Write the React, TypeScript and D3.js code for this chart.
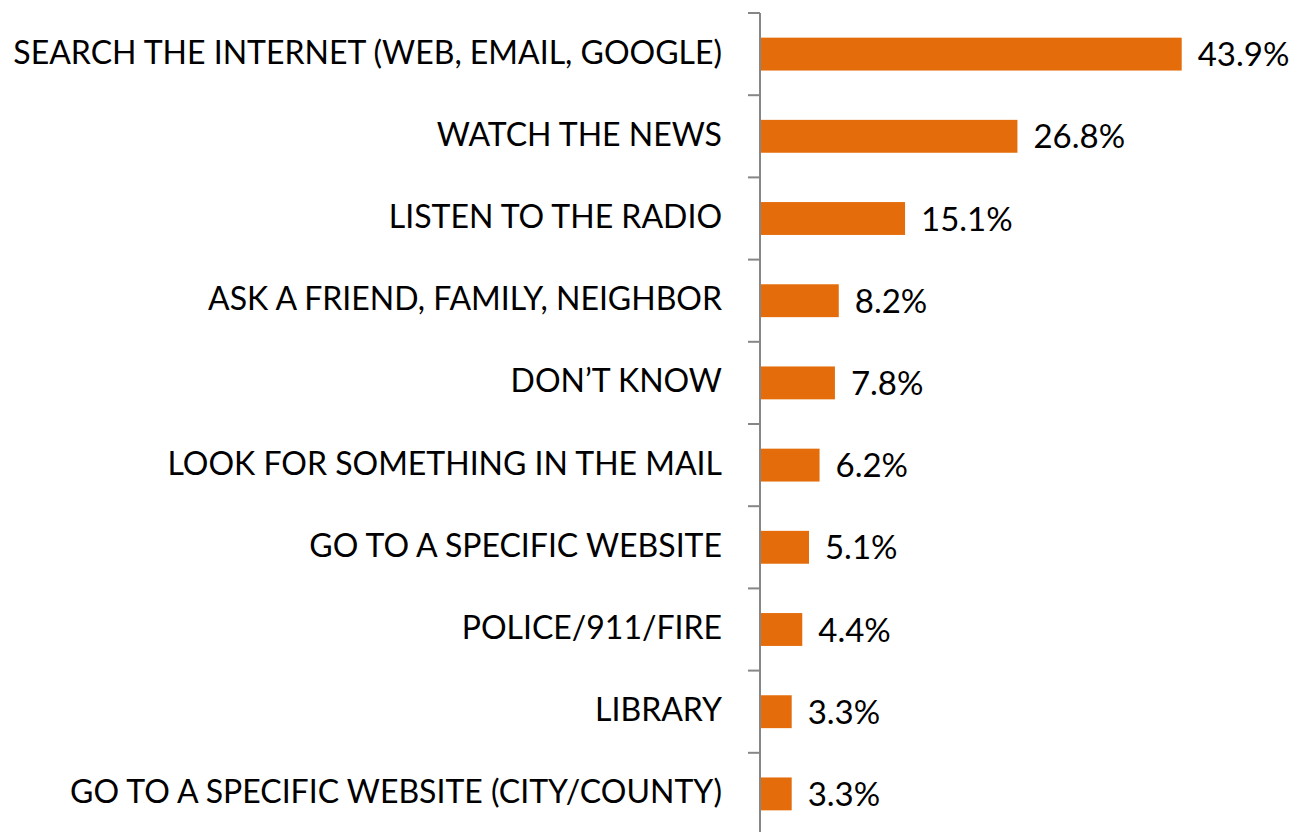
import React from "react";
import * as d3 from "d3";

const categories = [
  "SEARCH THE INTERNET (WEB, EMAIL, GOOGLE)",
  "WATCH THE NEWS",
  "LISTEN TO THE RADIO",
  "ASK A FRIEND, FAMILY, NEIGHBOR",
  "DON\u2019T KNOW",
  "LOOK FOR SOMETHING IN THE MAIL",
  "GO TO A SPECIFIC WEBSITE",
  "POLICE/911/FIRE",
  "LIBRARY",
  "GO TO A SPECIFIC WEBSITE (CITY/COUNTY)",
];
const values = [43.9, 26.8, 15.1, 8.2, 7.8, 6.2, 5.1, 4.4, 3.3, 3.3];

const W = 1295;
const H = 832;
const FONT = "Lato, 'Open Sans', sans-serif";

export default function App() {
  const axisX = 760;
  const top = 13;
  const step = 82.2;
  const x = d3.scaleLinear().domain([0, 50]).range([axisX, axisX + 480.3]);
  const y = d3
    .scaleBand<string>()
    .domain(categories)
    .range([top, top + step * categories.length])
    .paddingInner(0.6)
    .paddingOuter(0.3);
  const bw = y.bandwidth();
  const ticks = d3.range(categories.length + 1).map((i) => top + i * y.step());
  const fmt = (v: number) => d3.format(".1f")(v) + "%";

  return (
    <svg
      width={W}
      height={H}
      style={{ position: "absolute", left: 0, top: 0, background: "#fff" }}
      fontFamily={FONT}
    >
      {categories.map((c, i) => {
        const yc = (y(c) as number) + bw / 2;
        return (
          <g key={i}>
            <rect x={x(0)} y={y(c)} width={x(values[i]) - x(0)} height={bw} fill="#E46C0A" />
            <text x={722} y={yc + 9.5} textAnchor="end" fontSize={32} fill="#000">
              {c}
            </text>
            <text x={x(values[i]) + 16} y={yc + 12} textAnchor="start" fontSize={33} fill="#000">
              {fmt(values[i])}
            </text>
          </g>
        );
      })}
      <line x1={axisX} x2={axisX} y1={top} y2={H} stroke="#868686" strokeWidth={2} />
      {ticks.map((t, i) => (
        <line key={i} x1={axisX - 12} x2={axisX} y1={t} y2={t} stroke="#868686" strokeWidth={2} />
      ))}
    </svg>
  );
}
